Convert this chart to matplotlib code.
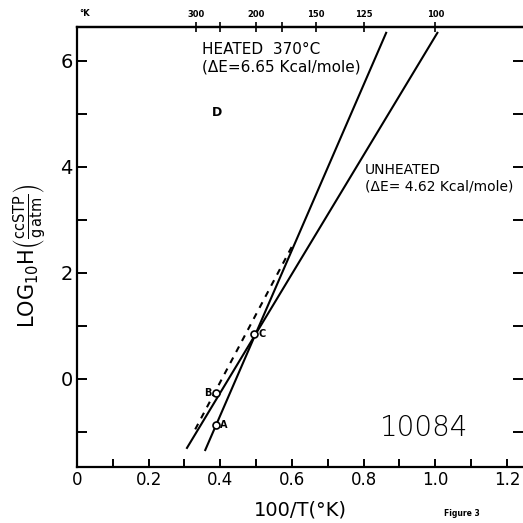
#Arrhenius-type plot, LOG10 H against 100/T, sample 10084
import numpy as np
import matplotlib.pyplot as plt

#Line end points (100/T, log10 H)
heated_x = [0.358, 0.863]
heated_y = [-1.34, 6.53]
unheated_x = [0.307, 1.006]
unheated_y = [-1.30, 6.53]
dashed_x = [0.33, 0.60]
dashed_y = [-0.95, 2.50]

#Marked points
point_names = ['A', 'B', 'C']
point_x = [0.388, 0.388, 0.494]
point_y = [-0.86, -0.27, 0.84]

#Top axis temperatures (K)
top_temps = [300, 250, 200, 175, 150, 125, 100]
top_labels = ['300', '', '200', '', '150', '125', '100']

#Bottom and left ticks
x_ticks = np.arange(0, 1.25, 0.1)
x_labels = ['0', '', '0.2', '', '0.4', '', '0.6', '', '0.8', '', '1.0', '', '1.2']
y_ticks = [-1, 0, 1, 2, 3, 4, 5, 6]
y_labels = ['', '0', '', '2', '', '4', '', '6']

fig = plt.figure(figsize=(5.23, 5.23), dpi=100)
ax = fig.add_axes([77/523, 56/523, 446/523, 440/523])
ax.set_xlim(0, 1.245)
ax.set_ylim(-1.66, 6.64)

#The three lines
ax.plot(heated_x, heated_y, color='black', lw=1.5)
ax.plot(unheated_x, unheated_y, color='black', lw=1.5)
ax.plot(dashed_x, dashed_y, color='black', lw=1.5, linestyle=(0, (3, 3)))

#Open circles and their letters
ax.plot(point_x, point_y, 'o', ms=5, mfc='white', mec='black', mew=1.2)
offsets = {'A': (0.012, 0), 'B': (-0.012, 0), 'C': (0.012, 0)}
for name, px, py in zip(point_names, point_x, point_y):
    dx, dy = offsets[name]
    ha = 'right' if dx < 0 else 'left'
    ax.text(px + dx, py + dy, name, fontsize=7, fontweight='bold', ha=ha, va='center')
ax.text(0.39, 5.02, 'D', fontsize=9, fontweight='bold', ha='center', va='center')

#Annotations
ax.text(0.349, 6.36, 'HEATED  370°C\n(ΔE=6.65 Kcal/mole)', fontsize=11, ha='left', va='top',
        linespacing=1.25)
ax.text(0.804, 4.07, 'UNHEATED\n(ΔE= 4.62 Kcal/mole)', fontsize=10, ha='left', va='top',
        linespacing=1.2)
ax.text(0.846, -0.92, '10084', fontsize=20, fontweight='light', ha='left', va='center')

#Axis styling
for side in ['left', 'bottom', 'top']:
    ax.spines[side].set_linewidth(1.6)
ax.spines['right'].set_visible(False)
ax.set_xticks(x_ticks)
ax.set_xticklabels(x_labels, fontsize=12)
ax.set_yticks(y_ticks)
ax.set_yticklabels(y_labels, fontsize=14)
ax.tick_params(axis='x', direction='in', length=6, width=1.4, pad=3, top=False)
ax.tick_params(axis='y', direction='in', length=7, width=1.4, pad=3, right=True)
ax.set_xlabel('100/T(°K)', fontsize=14, labelpad=8)
ax.text(-0.105, 0.48, r'LOG$_{10}$H$\left(\frac{\mathrm{ccSTP}}{\mathrm{g\,atm}}\right)$',
        transform=ax.transAxes, rotation=90, fontsize=15, ha='center', va='center')

#Top temperature scale
top = ax.twiny()
top.set_xlim(ax.get_xlim())
top.set_xticks([100 / T for T in top_temps])
top.set_xticklabels(top_labels, fontsize=6, fontweight='bold')
top.tick_params(axis='x', direction='inout', length=7, width=1.2, pad=2)
for side in ['left', 'bottom', 'right']:
    top.spines[side].set_visible(False)
top.spines['top'].set_linewidth(1.6)
fig.text(85/523, 1 - 14/523, '°K', fontsize=6, fontweight='bold', ha='center', va='center')

fig.text(462/523, 1 - 514/523, 'Figure 3', fontsize=5.5, fontweight='bold', ha='center', va='center')

fig.savefig('out.png', dpi=100)
